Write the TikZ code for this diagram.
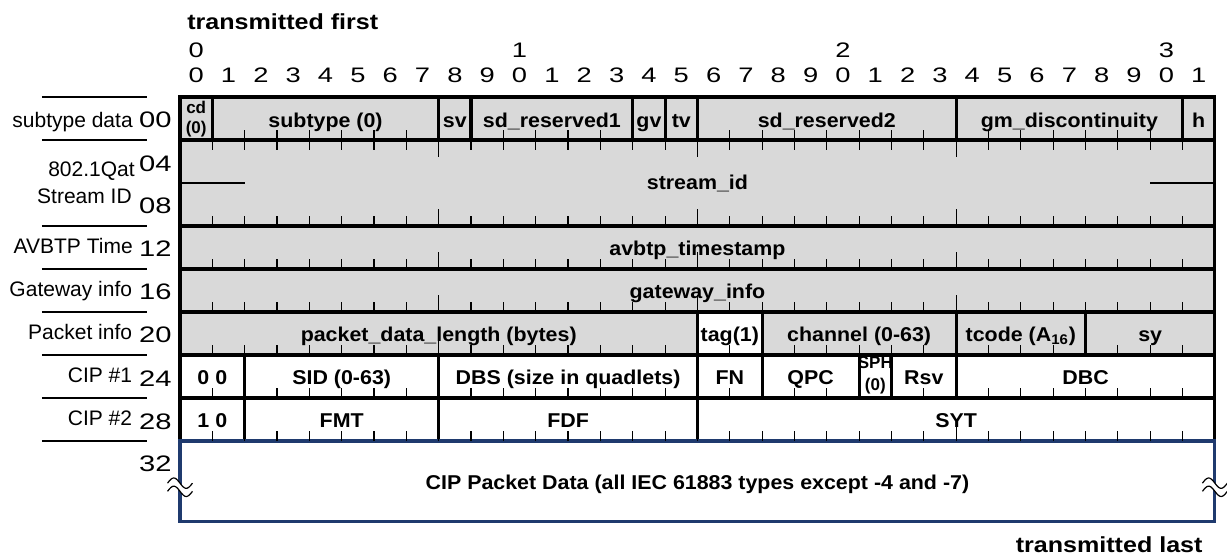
\documentclass[tikz,border=0pt]{standalone}
\usepackage{fontspec}
\setmainfont{Liberation Sans}
\newfontfamily\widesans[FakeStretch=1.3]{Liberation Sans}
\newfontfamily\headsans[FakeStretch=1.15]{Liberation Sans}
\newfontfamily\fieldsans[FakeStretch=1.07]{Liberation Sans}
\definecolor{cellgray}{HTML}{D9D9D9}
\definecolor{navy}{HTML}{1F3A6E}
\tikzset{
  fld/.style={draw, line width=1.6pt},
  bittick/.style={line width=0.6pt},
  sepline/.style={line width=0.6pt},
  lbl/.style={font=\fieldsans\bfseries\fontsize{10}{12}\selectfont, inner sep=0pt, anchor=base},
  smallfld/.style={font=\bfseries\fontsize{8.5}{9}\selectfont, inner sep=0pt},
  rowname/.style={font=\fontsize{10.5}{12}\selectfont, inner sep=0pt, anchor=base east},
  rownum/.style={font=\widesans\fontsize{11.2}{12}\selectfont, inner sep=0pt, anchor=base east},
  bitnum/.style={font=\widesans\fontsize{10.5}{12}\selectfont, inner sep=0pt, anchor=base},
  heading/.style={font=\headsans\bfseries\fontsize{10.9}{12}\selectfont, inner sep=0pt}
}
\newcommand{\breakmark}[1]{%
  \fill[white] plot[domain=-0.385:0.385, samples=25] ({#1+\x}, {8.98-0.12*sin(467.5*(\x+0.385))})
    -- plot[domain=0.385:-0.385, samples=25] ({#1+\x}, {9.17-0.12*sin(467.5*(\x+0.385))}) -- cycle;
  \draw[bittick] plot[domain=-0.385:0.385, samples=25] ({#1+\x}, {8.98-0.12*sin(467.5*(\x+0.385))});
  \draw[bittick] plot[domain=-0.385:0.385, samples=25] ({#1+\x}, {9.17-0.12*sin(467.5*(\x+0.385))});
}

\begin{document}
\begin{tikzpicture}[x=16.17pt, y=-21.5pt]
\useasboundingbox (-5.566,-2.256) rectangle (32.375,10.744);

	\node [heading, anchor=base west] (first) at (0.216,-1.58) {transmitted first};
	\node [heading, anchor=base east] (last) at (31.63,10.6) {transmitted last};

	\node [bitnum] (t0) at (0.5,-0.93) {0};
	\node [bitnum] (t1) at (10.5,-0.93) {1};
	\node [bitnum] (t2) at (20.5,-0.93) {2};
	\node [bitnum] (t3) at (30.5,-0.93) {3};
	\foreach \k in {0,...,31} {
		\pgfmathtruncatemacro\d{mod(\k,10)}
		\node [bitnum] (b\k) at (\k+0.5,-0.326) {\d};
	}

% subtype data
	\draw[fld, fill=cellgray] (0,0) rectangle (1,1);
	\draw[fld, fill=cellgray] (1,0) rectangle (8,1);
	\draw[fld, fill=cellgray] (8,0) rectangle (9,1);
	\draw[fld, fill=cellgray] (9,0) rectangle (14,1);
	\draw[fld, fill=cellgray] (14,0) rectangle (15,1);
	\draw[fld, fill=cellgray] (15,0) rectangle (16,1);
	\draw[fld, fill=cellgray] (16,0) rectangle (24,1);
	\draw[fld, fill=cellgray] (24,0) rectangle (31,1);
	\draw[fld, fill=cellgray] (31,0) rectangle (32,1);

	\draw[fld, fill=cellgray] (0,1) rectangle (32,3);
	\draw[fld, fill=cellgray] (0,3) rectangle (32,4);
	\draw[fld, fill=cellgray] (0,4) rectangle (32,5);

% packet info
	\draw[fld, fill=cellgray] (0,5) rectangle (16,6);
	\draw[fld, fill=white] (16,5) rectangle (18,6);
	\draw[fld, fill=cellgray] (18,5) rectangle (24,6);
	\draw[fld, fill=cellgray] (24,5) rectangle (28,6);
	\draw[fld, fill=cellgray] (28,5) rectangle (32,6);

% CIP headers
	\draw[fld] (0,6) rectangle (2,7);
	\draw[fld] (2,6) rectangle (8,7);
	\draw[fld] (8,6) rectangle (16,7);
	\draw[fld] (16,6) rectangle (18,7);
	\draw[fld] (18,6) rectangle (21,7);
	\draw[fld] (21,6) rectangle (22,7);
	\draw[fld] (22,6) rectangle (24,7);
	\draw[fld] (24,6) rectangle (32,7);

	\draw[fld] (0,7) rectangle (2,8);
	\draw[fld] (2,7) rectangle (8,8);
	\draw[fld] (8,7) rectangle (16,8);
	\draw[fld] (16,7) rectangle (32,8);

	\draw[fld, draw=navy, fill=white] (0,8) rectangle (32,9.88);

	\foreach \r in {1,3,4,5,6,7,8} {
		\foreach \k in {1,...,31} \draw[bittick] (\k,\r) -- ++(0,-0.23);
		\foreach \k in {8,16,24} \draw[bittick] (\k,\r) -- ++(0,-0.4);
	}
	\foreach \k in {1,...,31} \draw[bittick] (\k,1) -- ++(0,0.23);
	\foreach \k in {8,16,24} \draw[bittick] (\k,1) -- ++(0,0.4);
	\draw[sepline] (0,2) -- (2,2);
	\draw[sepline] (30,2) -- (32,2);

	\breakmark{0}
	\breakmark{32}

	\node [smallfld] (cd) at (0.5,0.25) {cd};
	\node [smallfld] (cdval) at (0.5,0.74) {(0)};
	\node [lbl] (subtype) at (4.5,0.7) {subtype (0)};
	\node [lbl] (sv) at (8.5,0.7) {sv};
	\node [lbl] (sdres1) at (11.5,0.7) {sd\_reserved1};
	\node [lbl] (gv) at (14.5,0.7) {gv};
	\node [lbl] (tv) at (15.5,0.7) {tv};
	\node [lbl] (sdres2) at (20,0.7) {sd\_reserved2};
	\node [lbl] (gmdisc) at (27.5,0.7) {gm\_discontinuity};
	\node [lbl] (h) at (31.5,0.7) {h};

	\node [lbl] (streamid) at (16,2.16) {stream\_id};
	\node [lbl] (timestamp) at (16,3.68) {avbtp\_timestamp};
	\node [lbl] (gwinfo) at (16,4.68) {gateway\_info};

	\node [lbl] (pktlen) at (8,5.68) {packet\_data\_length (bytes)};
	\node [lbl] (tag) at (17,5.68) {tag(1)};
	\node [lbl] (channel) at (21,5.68) {channel (0-63)};
	\node [lbl] (tcode) at (26,5.68) {tcode (A\textsubscript{16})};
	\node [lbl] (sy) at (30,5.68) {sy};

	\node [lbl] (zerozero) at (1,6.68) {0 0};
	\node [lbl] (sid) at (5,6.68) {SID (0-63)};
	\node [lbl] (dbs) at (12,6.68) {DBS (size in quadlets)};
	\node [lbl] (fn) at (17,6.68) {FN};
	\node [lbl] (qpc) at (19.5,6.68) {QPC};
	\node [smallfld] (sph) at (21.5,6.18) {SPH};
	\node [smallfld] (sphval) at (21.5,6.72) {(0)};
	\node [lbl] (rsv) at (23,6.68) {Rsv};
	\node [lbl] (dbc) at (28,6.68) {DBC};

	\node [lbl] (onezero) at (1,7.68) {1 0};
	\node [lbl] (fmt) at (5,7.68) {FMT};
	\node [lbl] (fdf) at (12,7.68) {FDF};
	\node [lbl] (syt) at (24,7.68) {SYT};

	\node [lbl] (cipdata) at (16,9.12) {CIP Packet Data (all IEC 61883 types except -4 and -7)};

% row names
	\foreach \y in {0,1,3,4,5,6,7,8} \draw[sepline] (-4.27,\y) -- (-1.02,\y);
	\node [rowname] (subtypedata) at (-1.45,0.7) {subtype data};
	\node [rowname] (qat) at (-1.39,1.86) {802.1Qat};
	\node [rowname] (sidname) at (-1.48,2.47) {Stream ID};
	\node [rowname] (avbtptime) at (-1.45,3.65) {AVBTP Time};
	\node [rowname] (gwname) at (-1.47,4.65) {Gateway info};
	\node [rowname] (pktname) at (-1.47,5.65) {Packet info};
	\node [rowname] (cipone) at (-1.47,6.65) {CIP \#1};
	\node [rowname] (ciptwo) at (-1.47,7.65) {CIP \#2};

	\node [rownum] (n00) at (-0.25,0.72) {00};
	\node [rownum] (n04) at (-0.25,1.74) {04};
	\node [rownum] (n08) at (-0.25,2.70) {08};
	\node [rownum] (n12) at (-0.25,3.72) {12};
	\node [rownum] (n16) at (-0.25,4.72) {16};
	\node [rownum] (n20) at (-0.25,5.72) {20};
	\node [rownum] (n24) at (-0.25,6.74) {24};
	\node [rownum] (n28) at (-0.25,7.74) {28};
	\node [rownum] (n32) at (-0.25,8.72) {32};
\end{tikzpicture}
\end{document}
